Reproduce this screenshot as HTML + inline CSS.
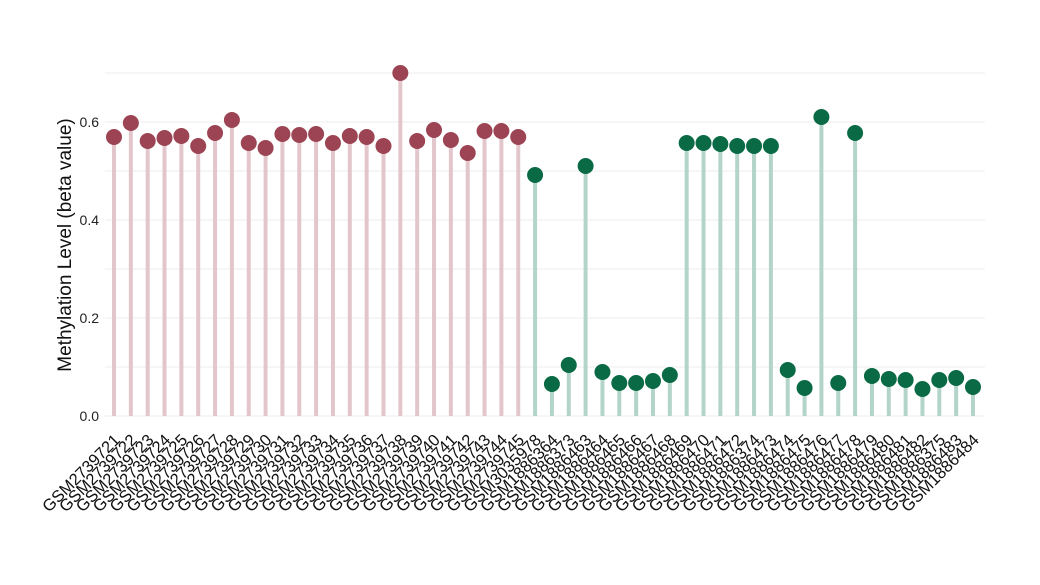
<!DOCTYPE html>
<html><head><style>body{margin:0;background:#fff}</style></head><body>
<svg width="1040" height="580" xmlns="http://www.w3.org/2000/svg" font-family="Liberation Sans, sans-serif">
<g id="grid" stroke="#ececec" stroke-width="1"></g>
<g id="stems"></g><g id="dots"></g><g id="labels" font-size="16.5" fill="#111"></g>
<g font-size="14" fill="#222" text-anchor="end">
<text x="99" y="421">0.0</text><text x="99" y="323">0.2</text><text x="99" y="225">0.4</text><text x="99" y="127">0.6</text>
</g>
<text transform="translate(71,245) rotate(-90)" text-anchor="middle" font-size="19" fill="#111">Methylation Level (beta value)</text>
</svg>
<script>
const ns="http://www.w3.org/2000/svg";
function el(t,a,p,txt){const e=document.createElementNS(ns,t);for(const k in a)e.setAttribute(k,a[k]);if(txt)e.textContent=txt;document.getElementById(p).appendChild(e);}
for(let v=0;v<=0.7001;v+=0.1){const y=416-v*490;el('line',{x1:105,x2:985,y1:y,y2:y},'grid');}
const names=[];for(let i=21;i<=45;i++)names.push('GSM27397'+i);
names.push(...'GSM3035978 GSM1886364 GSM1886373 GSM1886463 GSM1886464 GSM1886465 GSM1886466 GSM1886467 GSM1886468 GSM1886469 GSM1886470 GSM1886471 GSM1886472 GSM1886374 GSM1886473 GSM1886474 GSM1886475 GSM1886476 GSM1886477 GSM1886478 GSM1886479 GSM1886480 GSM1886481 GSM1886482 GSM1886375 GSM1886483 GSM1886484'.split(' '));
const ys=[137,123,141,138,136,146,133,120,143,148,134,135,134,143,136,137,146,73,141,130,140,153,131,131,137,
175,384,365,166,372,383,383,381,375,143,143,144,146,146,146,370,388,117,383,133,376,379,380,389,380,378,387];
const step=(973-114)/51;
ys.forEach((y,i)=>{const x=114+i*step;const red=i<25;
el('line',{x1:x,x2:x,y1:416,y2:y,stroke:red?'#e2c6cc':'#b3d4c8','stroke-width':4},'stems');
el('circle',{cx:x,cy:y,r:8,fill:red?'#9c4453':'#0b6a46'},'dots');
el('text',{transform:`translate(${x+7},${441}) rotate(-45)`,'text-anchor':'end'},'labels',names[i]);});
</script>
</body></html>
